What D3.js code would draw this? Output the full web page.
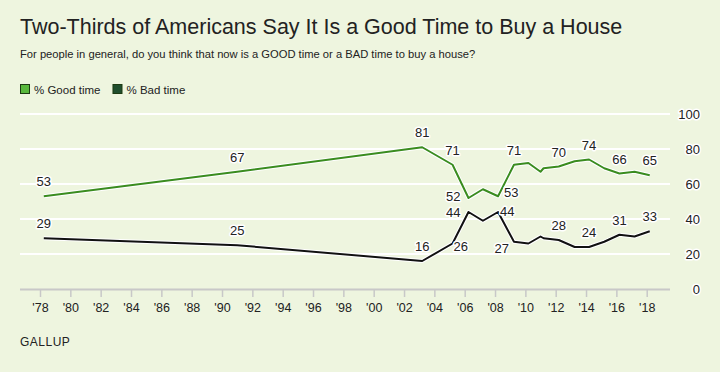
<!DOCTYPE html>
<html lang="en">
<head>
    <meta charset="UTF-8">
    <title>Good time to buy a house</title>
    <script src="https://cdn.jsdelivr.net/npm/d3@7/dist/d3.min.js"></script>
    <style>
        html, body {
            margin: 0;
            padding: 0;
            width: 720px;
            height: 372px;
            overflow: hidden;
            background: #eef5df;
        }
        text { font-family: "Liberation Sans", Arial, sans-serif; }
        .narrow { font-family: "Liberation Sans Narrow", "Liberation Sans", Arial, sans-serif; }
        .halo { paint-order: stroke; stroke: #fff; stroke-width: 3px; stroke-linejoin: round; }
    </style>
</head>
<body>
</body>
<script>
    let width = 720;
    let height = 372;

    // survey dates (year + fraction)
    let years = [1978.25, 1991, 2003.2, 2005.2, 2006.25, 2007.2, 2008.2, 2009.25, 2010.2, 2011.0, 2011.2,
        2012.2, 2013.25, 2014.2, 2015.2, 2016.2, 2017.2, 2018.2];
    let goodTime = [53, 67, 81, 71, 52, 57, 53, 71, 72, 67, 69, 70, 73, 74, 69, 66, 67, 65];
    let badTime = [29, 25, 16, 26, 44, 39, 44, 27, 26, 30, 29, 28, 24, 24, 27, 31, 30, 33];

    let yTicks = [0, 20, 40, 60, 80, 100];
    let xTicks = d3.range(1978, 2019, 2);

    // which points get a value label, and where it sits
    let goodLabels = [[0, 'up'], [1, 'up'], [2, 'up'], [3, 'up'], [4, 'left'], [6, 'right'], [7, 'up'],
        [11, 'up'], [13, 'up'], [15, 'up'], [17, 'up']];
    let badLabels = [[0, 'up'], [1, 'up'], [2, 'up'], [3, 'downRight'], [4, 'leftLow'], [6, 'rightLow'],
        [7, 'downLeft'], [11, 'up'], [13, 'up'], [15, 'up'], [17, 'up']];

    let svg = d3.select('body').append('svg')
        .attr('width', width)
        .attr('height', height);

    // titles
    svg.append('text').attr('class', 'narrow')
        .attr('x', 20).attr('y', 34)
        .attr('font-size', 21.5).attr('fill', '#222')
        .text('Two-Thirds of Americans Say It Is a Good Time to Buy a House');
    svg.append('text').attr('class', 'narrow')
        .attr('x', 20).attr('y', 58)
        .attr('font-size', 11.2).attr('fill', '#222')
        .text('For people in general, do you think that now is a GOOD time or a BAD time to buy a house?');

    // legend
    let legend = [['% Good time', '#58b83c'], ['% Bad time', '#1f4e2d']];
    let lg = svg.append('g').attr('transform', 'translate(20, 84)');
    let lx = 0;
    legend.forEach(([name, color]) => {
        lg.append('rect').attr('x', lx + 0.5).attr('y', 0.5).attr('width', 9).attr('height', 9)
            .attr('fill', color).attr('stroke', '#1c3a12').attr('stroke-width', 1);
        let t = lg.append('text').attr('class', 'narrow')
            .attr('x', lx + 14).attr('y', 9.5)
            .attr('font-size', 11.5).attr('fill', '#222').text(name);
        lx += 14 + t.node().getComputedTextLength() + 12;
    });

    let x = d3.scaleLinear().domain([1978, 2018]).range([40, 646.7]);
    let y = d3.scaleLinear().domain([0, 100]).range([289, 114]);

    // grid
    svg.append('g').selectAll('line')
        .data(yTicks.filter(d => d > 0))
        .enter().append('line')
        .attr('x1', 20).attr('x2', 670)
        .attr('y1', d => y(d)).attr('y2', d => y(d))
        .attr('stroke', '#fff').attr('stroke-width', 2);

    // y labels on the right
    svg.append('g').selectAll('text')
        .data(yTicks)
        .enter().append('text')
        .attr('class', 'halo')
        .attr('x', 700).attr('y', d => y(d) + 5)
        .attr('text-anchor', 'end')
        .attr('font-size', 13).attr('fill', '#222')
        .text(d => d);

    // x axis
    let xAxis = d3.axisBottom(x)
        .tickValues(xTicks)
        .tickSize(8)
        .tickPadding(6)
        .tickFormat(d => "'" + String(d).slice(2));
    let gx = svg.append('g')
        .attr('transform', `translate(0, ${y(0)})`)
        .call(xAxis);
    gx.select('.domain').attr('d', 'M20,0.5H670').attr('stroke', '#c8c8c8').attr('stroke-width', 2);
    gx.selectAll('.tick line').attr('stroke', '#c8c8c8').attr('stroke-width', 1.5);
    gx.selectAll('.tick text').attr('class', 'narrow').attr('font-size', 12.5).attr('fill', '#222');

    // lines
    let line = (vals) => d3.line()
        .x((d, i) => x(years[i]))
        .y(d => y(d))(vals);

    [[goodTime, '#3a8c1f'], [badTime, '#111']].forEach(([vals, color]) => {
        svg.append('path').attr('d', line(vals))
            .attr('fill', 'none').attr('stroke', '#fff').attr('stroke-width', 4)
            .attr('stroke-linejoin', 'round');
        svg.append('path').attr('d', line(vals))
            .attr('fill', 'none').attr('stroke', color).attr('stroke-width', 2)
            .attr('stroke-linejoin', 'round');
    });

    // value labels
    let offsets = {
        up: [0, -10, 'middle'],
        left: [-8, 3, 'end'],
        leftLow: [-8, 5, 'end'],
        right: [6, 1, 'start'],
        rightLow: [2, 4, 'start'],
        downRight: [1, 7, 'start'],
        downLeft: [-5, 11, 'end']
    };
    [[goodLabels, goodTime], [badLabels, badTime]].forEach(([labels, vals]) => {
        svg.append('g').selectAll('text')
            .data(labels)
            .enter().append('text')
            .attr('class', 'halo')
            .attr('x', d => x(years[d[0]]) + offsets[d[1]][0])
            .attr('y', d => y(vals[d[0]]) + offsets[d[1]][1])
            .attr('text-anchor', d => offsets[d[1]][2])
            .attr('font-size', 13).attr('fill', '#222')
            .text(d => vals[d[0]]);
    });

    // source
    svg.append('text').attr('class', 'narrow')
        .attr('x', 20).attr('y', 346)
        .attr('font-size', 12).attr('letter-spacing', 0.5).attr('fill', '#222')
        .text('GALLUP');
</script>
</html>
